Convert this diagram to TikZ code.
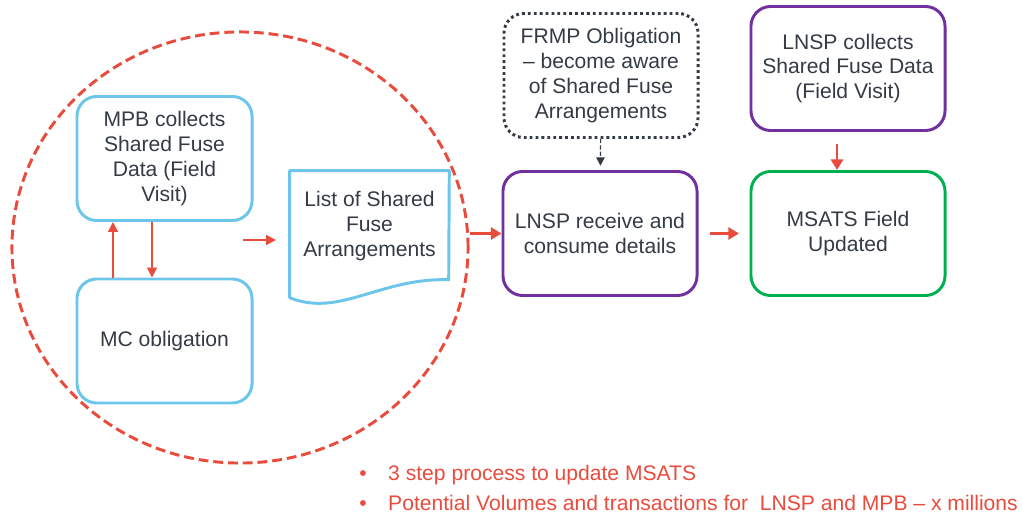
\documentclass[tikz,border=0pt]{standalone}
\usepackage{fontspec}
\setmainfont{Liberation Sans}
\usetikzlibrary{shapes.geometric,arrows.meta}
\definecolor{txtgrey}{HTML}{343B45}
\definecolor{fuseblue}{HTML}{6CC5EA}
\definecolor{lnsppurple}{HTML}{7030A0}
\definecolor{msatsgreen}{HTML}{00B050}
\definecolor{flowred}{HTML}{E94B3C}
\begin{document}
\begin{tikzpicture}[x=0.025cm,y=-0.025cm,
	box/.style={draw,rounded corners=14pt,line width=2.1pt,minimum height=3.1cm,
		align=center,text=txtgrey,font=\fontsize{15}{17.6}\selectfont,inner sep=0pt},
	mpbbox/.style={box,draw=fuseblue,minimum width=4.375cm},
	lnspbox/.style={box,draw=lnsppurple,minimum width=4.85cm},
	thinarrow/.style={draw=flowred,line width=1pt,-{Triangle[length=7pt,width=7pt]}},
	bigarrow/.style={draw=flowred,line width=2.1pt,-{Triangle[length=7.5pt,width=8.5pt]}},
	note/.style={anchor=west,inner sep=0pt,text=flowred,font=\fontsize{15}{17}\selectfont}]
\useasboundingbox (0,0) rectangle (1022,518);
% dashed ring round the MPB part
\node[ellipse,draw=flowred,line width=2.1pt,dash pattern=on 7pt off 3.5pt,
	minimum width=11.4cm,minimum height=10.775cm,inner sep=0pt] (circ) at (240,247.5) {};
% MPB side
\node[mpbbox] (mpb) at (164.5,158.5) {MPB collects\\Shared Fuse\\Data (Field\\Visit)};
\node[mpbbox] (mc) at (164.5,341) {MC obligation};
\coordinate (upx) at (113,0);
\coordinate (downx) at (152,0);
\draw[thinarrow] (upx |- mc.north) -- (upx |- mpb.south);
\draw[thinarrow] (downx |- mpb.south) -- (downx |- mc.north);
% document shape
\node[minimum width=3.975cm,minimum height=2.75cm,inner sep=0pt,align=center,
	text=txtgrey,font=\fontsize{15}{17.6}\selectfont] (list) at (369.5,226)
	{List of Shared\\Fuse\\Arrangements};
\draw[fuseblue,line width=2.1pt,line join=round] (list.north west) -- ++(0,127)
	.. controls +(50,20) and +(-69,-2) .. ++(159,-18) -- (list.north east) -- cycle;
\coordinate (s0) at (243,240);
\coordinate (s1) at (276,240);
\draw[thinarrow] (s0) -- (s1);
% LNSP side
\node[lnspbox,draw=txtgrey,dash pattern=on 2pt off 2.2pt] (frmp) at (601,75.5)
	{FRMP Obligation\\-- become aware\\of Shared Fuse\\Arrangements};
\node[lnspbox] (lnspcoll) at (848,68.5) {LNSP collects\\Shared Fuse Data\\(Field Visit)};
\node[lnspbox] (lnsprecv) at (600,233.5) {LNSP receive and\\consume details};
\node[lnspbox,draw=msatsgreen] (msats) at (848,233.5) {MSATS Field\\Updated};
\draw[txtgrey,line width=0.8pt,dash pattern=on 3pt off 1.5pt,shorten >=3pt,
	-{Triangle[length=6pt,width=6pt]}] (frmp) -- (lnsprecv);
\draw[bigarrow] (circ.east |- lnsprecv.west) -- (lnsprecv.west);
\draw[bigarrow,shorten <=8.5pt,shorten >=7.5pt] (lnsprecv) -- (msats);
\coordinate (collx) at (837,0);
\draw[bigarrow,shorten <=8.5pt] (collx |- lnspcoll.south) -- (collx |- msats.north);
% notes
\node[note] (note1) at (359,475) {\makebox[20.6pt][l]{\textbullet}3 step process to update MSATS};
\node[note] (note2) at (359,503) {\makebox[20.6pt][l]{\textbullet}Potential Volumes and transactions for\ \ LNSP and MPB -- x millions};
\end{tikzpicture}
\end{document}
